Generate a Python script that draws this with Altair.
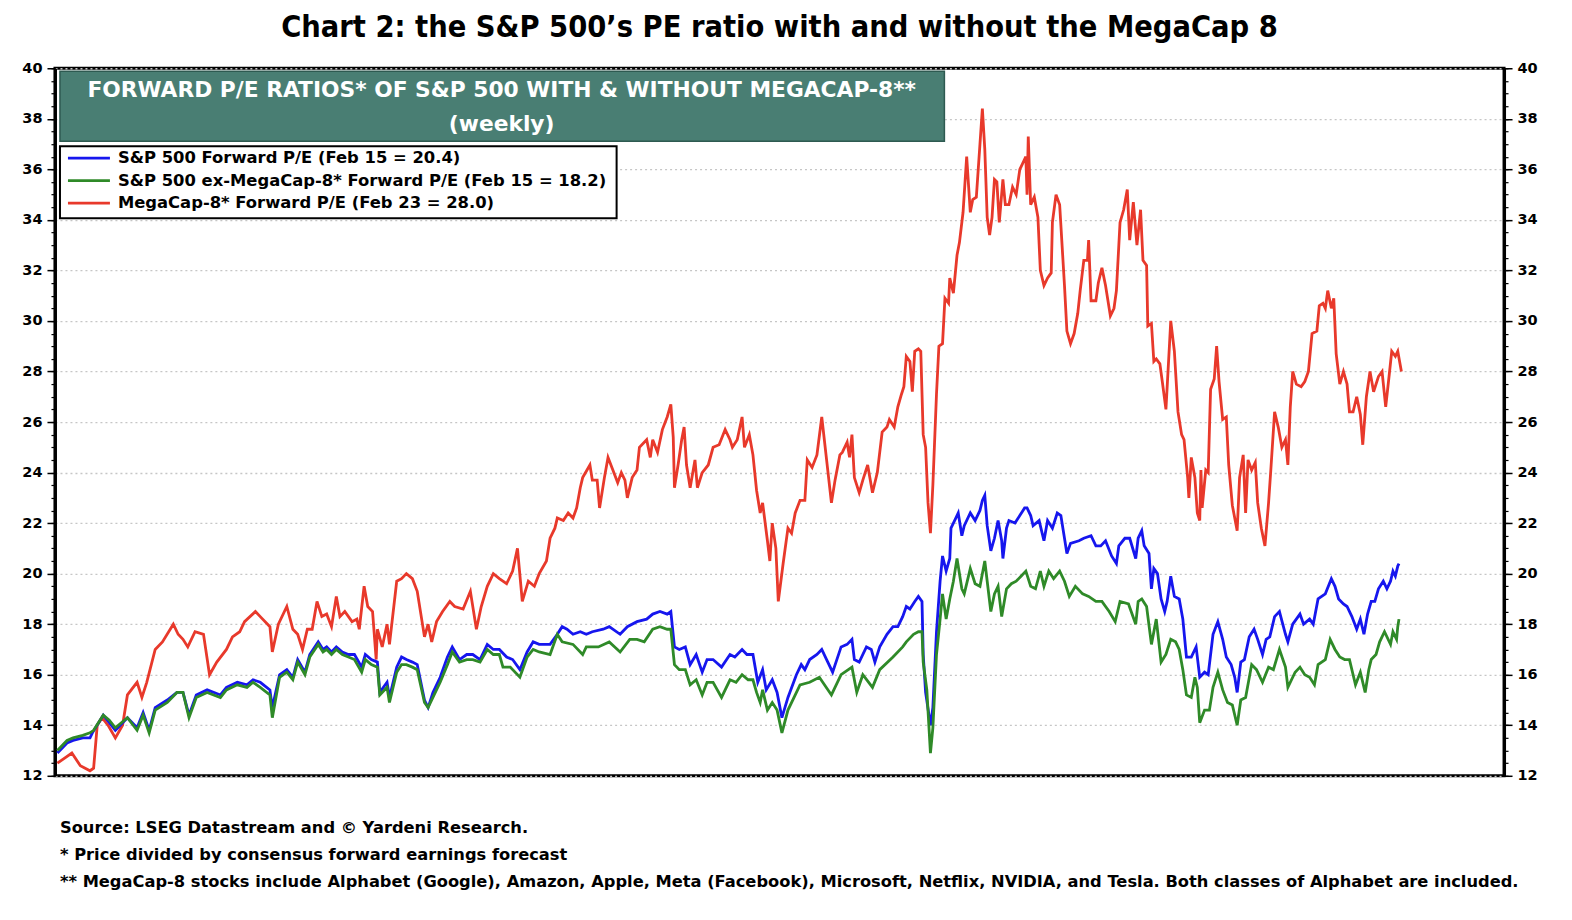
import altair as alt
import pandas as pd

# ---------------- data (decimal year, P/E) ----------------
mc8 = [
    (2013.02, 12.5), (2013.08, 12.7), (2013.14, 12.9), (2013.21, 12.4), (2013.29, 12.2), (2013.32, 12.3),
    (2013.35, 14.0), (2013.39, 14.3), (2013.44, 14.0), (2013.50, 13.5), (2013.56, 14.0), (2013.60, 15.2),
    (2013.68, 15.7), (2013.72, 15.1), (2013.76, 15.7), (2013.83, 17.0), (2013.89, 17.3), (2013.98, 18.0),
    (2014.02, 17.6), (2014.06, 17.4), (2014.10, 17.1), (2014.16, 17.7), (2014.23, 17.6), (2014.28, 16.0),
    (2014.34, 16.5), (2014.42, 17.0), (2014.47, 17.5), (2014.53, 17.7), (2014.57, 18.1), (2014.66, 18.5),
    (2014.70, 18.3), (2014.78, 17.9), (2014.80, 16.9), (2014.85, 18.0), (2014.92, 18.7), (2014.97, 17.8),
    (2015.01, 17.6), (2015.05, 17.0), (2015.09, 17.8), (2015.13, 17.8), (2015.17, 18.9), (2015.21, 18.3),
    (2015.25, 18.4), (2015.29, 17.9), (2015.33, 19.1), (2015.36, 18.3), (2015.40, 18.5), (2015.46, 18.1),
    (2015.50, 18.2), (2015.52, 17.8), (2015.56, 19.5), (2015.59, 18.7), (2015.63, 18.5), (2015.66, 16.6),
    (2015.67, 17.8), (2015.71, 17.1), (2015.75, 18.0), (2015.77, 17.2), (2015.83, 19.7), (2015.87, 19.8),
    (2015.91, 20.0), (2015.96, 19.8), (2016.00, 19.3), (2016.04, 18.1), (2016.06, 17.5), (2016.09, 18.0),
    (2016.12, 17.3), (2016.16, 18.1), (2016.21, 18.5), (2016.27, 18.9), (2016.31, 18.7), (2016.38, 18.6),
    (2016.44, 19.3), (2016.49, 17.8), (2016.53, 18.7), (2016.58, 19.5), (2016.63, 20.0), (2016.68, 19.8),
    (2016.74, 19.6), (2016.79, 20.1), (2016.83, 21.0), (2016.87, 18.9), (2016.92, 19.7), (2016.97, 19.5),
    (2017.01, 20.0), (2017.07, 20.5), (2017.10, 21.4), (2017.14, 21.8), (2017.16, 22.2), (2017.21, 22.1),
    (2017.25, 22.4), (2017.29, 22.2), (2017.32, 22.6), (2017.35, 23.4), (2017.37, 23.8), (2017.43, 24.3),
    (2017.45, 23.7), (2017.49, 23.7), (2017.51, 22.6), (2017.55, 23.8), (2017.58, 24.6), (2017.62, 24.1),
    (2017.66, 23.6), (2017.69, 24.0), (2017.72, 23.7), (2017.74, 23.0), (2017.78, 23.8), (2017.82, 24.1),
    (2017.84, 25.0), (2017.90, 25.3), (2017.93, 24.6), (2017.95, 25.3), (2017.99, 24.8), (2018.03, 25.7),
    (2018.07, 26.2), (2018.10, 26.7), (2018.12, 25.4), (2018.13, 23.4), (2018.16, 24.3), (2018.19, 25.3),
    (2018.21, 25.8), (2018.23, 24.3), (2018.26, 23.4), (2018.30, 24.5), (2018.32, 23.4), (2018.36, 24.0),
    (2018.41, 24.3), (2018.45, 25.0), (2018.50, 25.1), (2018.55, 25.7), (2018.59, 25.3), (2018.61, 25.0),
    (2018.65, 25.3), (2018.69, 26.2), (2018.71, 25.0), (2018.75, 25.5), (2018.78, 24.7), (2018.81, 23.3),
    (2018.84, 22.4), (2018.86, 22.8), (2018.90, 21.3), (2018.92, 20.5), (2018.94, 22.0), (2018.97, 21.0),
    (2018.99, 18.9), (2019.03, 20.4), (2019.07, 21.8), (2019.10, 21.6), (2019.13, 22.4), (2019.17, 22.9),
    (2019.21, 22.9), (2019.23, 24.5), (2019.27, 24.2), (2019.31, 24.7), (2019.35, 26.2), (2019.39, 24.5),
    (2019.43, 22.8), (2019.46, 23.7), (2019.50, 24.7), (2019.52, 24.8), (2019.56, 25.2), (2019.58, 24.6),
    (2019.60, 25.5), (2019.62, 23.8), (2019.66, 23.2), (2019.69, 23.7), (2019.73, 24.3), (2019.77, 23.2),
    (2019.81, 24.0), (2019.85, 25.6), (2019.89, 25.8), (2019.91, 26.1), (2019.95, 25.8), (2019.98, 26.6),
    (2020.01, 27.1), (2020.03, 27.4), (2020.05, 28.6), (2020.08, 28.4), (2020.10, 27.2), (2020.12, 28.8),
    (2020.15, 28.9), (2020.17, 28.8), (2020.19, 25.5), (2020.21, 25.0), (2020.23, 22.8), (2020.25, 21.6),
    (2020.27, 23.5), (2020.30, 27.1), (2020.32, 29.0), (2020.35, 29.1), (2020.37, 30.9), (2020.40, 30.7),
    (2020.41, 31.7), (2020.44, 31.1), (2020.47, 32.6), (2020.49, 33.1), (2020.52, 34.3), (2020.55, 36.5),
    (2020.58, 34.3), (2020.60, 34.8), (2020.63, 34.9), (2020.66, 37.0), (2020.68, 38.4), (2020.70, 36.8),
    (2020.72, 34.1), (2020.74, 33.4), (2020.76, 34.1), (2020.78, 35.6), (2020.80, 35.5), (2020.82, 33.9),
    (2020.85, 35.6), (2020.87, 34.6), (2020.90, 34.6), (2020.93, 35.3), (2020.96, 35.0), (2020.99, 36.0),
    (2021.01, 36.2), (2021.04, 36.5), (2021.05, 35.0), (2021.06, 37.3), (2021.08, 34.6), (2021.11, 34.9),
    (2021.14, 34.1), (2021.16, 32.0), (2021.19, 31.4), (2021.22, 31.7), (2021.25, 31.9), (2021.26, 33.9),
    (2021.29, 35.0), (2021.32, 34.6), (2021.36, 31.4), (2021.38, 29.6), (2021.41, 29.1), (2021.44, 29.5),
    (2021.47, 30.3), (2021.49, 31.2), (2021.52, 32.4), (2021.55, 32.4), (2021.56, 33.2), (2021.58, 30.8),
    (2021.62, 30.8), (2021.64, 31.5), (2021.67, 32.1), (2021.70, 31.4), (2021.74, 30.2), (2021.77, 30.5),
    (2021.79, 31.2), (2021.82, 33.9), (2021.85, 34.4), (2021.88, 35.2), (2021.90, 33.2), (2021.93, 34.7),
    (2021.96, 33.0), (2021.99, 34.4), (2022.01, 32.4), (2022.04, 32.2), (2022.05, 29.8), (2022.08, 29.9),
    (2022.10, 28.4), (2022.12, 28.5), (2022.15, 28.3), (2022.17, 27.6), (2022.20, 26.5), (2022.23, 29.1),
    (2022.24, 30.0), (2022.27, 28.8), (2022.30, 26.4), (2022.33, 25.5), (2022.35, 25.3), (2022.38, 23.8),
    (2022.39, 23.0), (2022.41, 24.6), (2022.44, 23.8), (2022.46, 22.4), (2022.48, 22.1), (2022.49, 24.1),
    (2022.50, 22.6), (2022.53, 24.1), (2022.55, 24.0), (2022.57, 27.3), (2022.60, 27.7), (2022.62, 29.0),
    (2022.64, 27.6), (2022.67, 26.1), (2022.70, 26.2), (2022.72, 24.3), (2022.75, 22.7), (2022.79, 21.7),
    (2022.81, 23.8), (2022.84, 24.7), (2022.86, 22.4), (2022.88, 24.5), (2022.91, 24.1), (2022.94, 24.4),
    (2022.96, 22.8), (2022.99, 21.8), (2023.02, 21.1), (2023.05, 22.8), (2023.07, 24.2), (2023.10, 26.4),
    (2023.13, 25.8), (2023.16, 25.0), (2023.19, 25.3), (2023.21, 24.3), (2023.23, 26.6), (2023.25, 28.0),
    (2023.28, 27.5), (2023.32, 27.4), (2023.35, 27.6), (2023.38, 28.0), (2023.41, 29.5), (2023.45, 29.6),
    (2023.47, 30.6), (2023.50, 30.7), (2023.52, 30.5), (2023.54, 31.2), (2023.57, 30.5), (2023.59, 30.9),
    (2023.61, 28.7), (2023.64, 27.5), (2023.67, 28.0), (2023.70, 27.5), (2023.72, 26.4), (2023.75, 26.4),
    (2023.78, 27.0), (2023.81, 26.3), (2023.83, 25.1), (2023.86, 27.0), (2023.89, 28.0), (2023.92, 27.2),
    (2023.96, 27.8), (2023.99, 28.0), (2024.02, 26.6), (2024.05, 27.9), (2024.07, 28.8), (2024.10, 28.6),
    (2024.12, 28.8), (2024.15, 28.0),
]

spx = [
    (2013.02, 12.9), (2013.10, 13.3), (2013.15, 13.4), (2013.23, 13.5), (2013.29, 13.5), (2013.31, 13.7),
    (2013.40, 14.4), (2013.45, 14.1), (2013.50, 13.8), (2013.60, 14.3), (2013.68, 13.9), (2013.73, 14.5),
    (2013.78, 13.8), (2013.83, 14.7), (2013.93, 15.0), (2014.01, 15.3), (2014.06, 15.3), (2014.11, 14.4),
    (2014.17, 15.2), (2014.26, 15.4), (2014.37, 15.2), (2014.42, 15.5), (2014.51, 15.7), (2014.59, 15.6),
    (2014.64, 15.8), (2014.70, 15.7), (2014.78, 15.4), (2014.80, 14.7), (2014.86, 16.0), (2014.92, 16.2),
    (2014.97, 15.9), (2015.01, 16.6), (2015.07, 16.1), (2015.11, 16.8), (2015.18, 17.3), (2015.22, 17.0),
    (2015.25, 17.1), (2015.29, 16.9), (2015.33, 17.1), (2015.38, 16.9), (2015.43, 16.8), (2015.48, 16.8),
    (2015.54, 16.3), (2015.57, 16.8), (2015.62, 16.6), (2015.67, 16.5), (2015.69, 15.3), (2015.75, 15.7),
    (2015.77, 15.1), (2015.83, 16.3), (2015.87, 16.7), (2015.91, 16.6), (2015.96, 16.5), (2016.00, 16.4),
    (2016.06, 15.0), (2016.09, 14.7), (2016.13, 15.3), (2016.19, 15.9), (2016.25, 16.7), (2016.29, 17.1),
    (2016.35, 16.6), (2016.41, 16.8), (2016.46, 16.8), (2016.52, 16.6), (2016.58, 17.2), (2016.63, 17.0),
    (2016.68, 17.0), (2016.74, 16.7), (2016.79, 16.6), (2016.85, 16.2), (2016.91, 16.9), (2016.96, 17.3),
    (2017.01, 17.2), (2017.10, 17.2), (2017.16, 17.6), (2017.20, 17.9), (2017.24, 17.8), (2017.29, 17.6),
    (2017.35, 17.7), (2017.40, 17.6), (2017.45, 17.7), (2017.54, 17.8), (2017.59, 17.9), (2017.68, 17.6),
    (2017.74, 17.9), (2017.82, 18.1), (2017.90, 18.2), (2017.95, 18.4), (2018.01, 18.5), (2018.07, 18.4),
    (2018.10, 18.5), (2018.13, 17.1), (2018.17, 17.0), (2018.22, 17.1), (2018.26, 16.4), (2018.31, 16.8),
    (2018.36, 16.1), (2018.40, 16.6), (2018.45, 16.6), (2018.52, 16.3), (2018.59, 16.8), (2018.63, 16.7),
    (2018.69, 17.0), (2018.73, 16.8), (2018.78, 16.8), (2018.82, 15.7), (2018.86, 16.2), (2018.89, 15.4),
    (2018.94, 15.8), (2018.98, 15.3), (2019.02, 14.3), (2019.07, 15.1), (2019.14, 16.0), (2019.18, 16.4),
    (2019.21, 16.2), (2019.25, 16.6), (2019.31, 16.8), (2019.35, 17.0), (2019.39, 16.6), (2019.44, 16.1),
    (2019.51, 17.1), (2019.56, 17.2), (2019.60, 17.4), (2019.62, 16.6), (2019.66, 16.5), (2019.72, 17.1),
    (2019.76, 17.0), (2019.79, 16.5), (2019.83, 17.1), (2019.89, 17.6), (2019.94, 17.9), (2019.98, 17.9),
    (2020.02, 18.3), (2020.05, 18.7), (2020.08, 18.6), (2020.12, 18.9), (2020.15, 19.1), (2020.18, 18.9),
    (2020.19, 16.8), (2020.21, 15.3), (2020.25, 14.0), (2020.27, 14.7), (2020.30, 17.7), (2020.33, 19.7),
    (2020.35, 20.7), (2020.38, 20.1), (2020.41, 20.6), (2020.42, 21.8), (2020.46, 22.2), (2020.48, 22.4),
    (2020.51, 21.5), (2020.53, 21.9), (2020.58, 22.4), (2020.62, 22.1), (2020.66, 22.5), (2020.68, 22.9),
    (2020.70, 23.1), (2020.72, 21.9), (2020.75, 20.9), (2020.78, 21.4), (2020.81, 22.1), (2020.84, 21.3),
    (2020.85, 20.6), (2020.88, 21.8), (2020.90, 22.1), (2020.95, 22.0), (2020.99, 22.3), (2021.03, 22.6),
    (2021.05, 22.6), (2021.08, 22.3), (2021.10, 21.9), (2021.15, 22.1), (2021.19, 21.3), (2021.22, 22.1),
    (2021.26, 21.8), (2021.30, 22.4), (2021.33, 22.3), (2021.36, 21.4), (2021.38, 20.8), (2021.41, 21.2),
    (2021.48, 21.3), (2021.52, 21.4), (2021.58, 21.5), (2021.62, 21.1), (2021.66, 21.1), (2021.70, 21.3),
    (2021.75, 20.7), (2021.79, 20.4), (2021.81, 21.1), (2021.86, 21.4), (2021.90, 21.4), (2021.95, 20.6),
    (2021.97, 21.4), (2022.00, 21.7), (2022.02, 21.1), (2022.06, 20.8), (2022.08, 19.4), (2022.10, 20.2),
    (2022.13, 20.0), (2022.16, 19.0), (2022.19, 18.5), (2022.21, 18.9), (2022.24, 19.9), (2022.27, 19.1),
    (2022.31, 19.0), (2022.34, 18.2), (2022.37, 16.7), (2022.41, 16.7), (2022.45, 17.1), (2022.48, 15.9),
    (2022.52, 16.1), (2022.55, 16.0), (2022.59, 17.6), (2022.63, 18.1), (2022.67, 17.4), (2022.70, 16.7),
    (2022.74, 16.4), (2022.77, 15.9), (2022.79, 15.3), (2022.82, 16.5), (2022.85, 16.6), (2022.89, 17.5),
    (2022.93, 17.8), (2022.96, 17.4), (2023.00, 16.8), (2023.03, 17.4), (2023.06, 17.5), (2023.10, 18.3),
    (2023.14, 18.5), (2023.19, 17.6), (2023.21, 17.3), (2023.25, 18.0), (2023.31, 18.4), (2023.34, 18.0),
    (2023.39, 18.2), (2023.42, 18.0), (2023.46, 19.0), (2023.52, 19.2), (2023.57, 19.8), (2023.60, 19.5),
    (2023.63, 19.0), (2023.67, 18.8), (2023.70, 18.7), (2023.74, 18.3), (2023.78, 17.8), (2023.81, 18.2),
    (2023.84, 17.6), (2023.87, 18.4), (2023.90, 18.9), (2023.93, 18.9), (2023.96, 19.4), (2024.00, 19.7),
    (2024.03, 19.4), (2024.06, 19.7), (2024.08, 20.1), (2024.10, 19.9), (2024.12, 20.3), (2024.13, 20.4),
]

ex_mc8 = [
    (2013.02, 13.0), (2013.10, 13.4), (2013.15, 13.5), (2013.23, 13.6), (2013.29, 13.7), (2013.32, 13.8),
    (2013.40, 14.4), (2013.45, 14.2), (2013.50, 13.9), (2013.60, 14.3), (2013.68, 13.8), (2013.73, 14.4),
    (2013.78, 13.7), (2013.83, 14.6), (2013.93, 14.9), (2014.01, 15.3), (2014.06, 15.3), (2014.11, 14.3),
    (2014.17, 15.1), (2014.26, 15.3), (2014.37, 15.1), (2014.42, 15.4), (2014.51, 15.6), (2014.59, 15.5),
    (2014.64, 15.7), (2014.70, 15.5), (2014.78, 15.2), (2014.80, 14.3), (2014.86, 15.9), (2014.92, 16.1),
    (2014.97, 15.8), (2015.01, 16.5), (2015.07, 16.0), (2015.11, 16.7), (2015.18, 17.2), (2015.22, 16.9),
    (2015.25, 17.0), (2015.29, 16.8), (2015.33, 17.0), (2015.38, 16.8), (2015.43, 16.7), (2015.48, 16.6),
    (2015.54, 16.1), (2015.57, 16.6), (2015.62, 16.4), (2015.67, 16.3), (2015.69, 15.2), (2015.75, 15.5),
    (2015.77, 14.9), (2015.83, 16.1), (2015.87, 16.4), (2015.91, 16.4), (2015.96, 16.3), (2016.00, 16.2),
    (2016.06, 14.9), (2016.09, 14.7), (2016.13, 15.1), (2016.19, 15.7), (2016.25, 16.4), (2016.29, 16.9),
    (2016.35, 16.5), (2016.41, 16.6), (2016.46, 16.6), (2016.52, 16.5), (2016.58, 17.0), (2016.63, 16.8),
    (2016.68, 16.8), (2016.71, 16.3), (2016.77, 16.3), (2016.85, 15.9), (2016.91, 16.7), (2016.96, 17.0),
    (2017.01, 16.9), (2017.10, 16.8), (2017.16, 17.6), (2017.20, 17.3), (2017.29, 17.2), (2017.37, 16.8),
    (2017.40, 17.1), (2017.50, 17.1), (2017.59, 17.3), (2017.68, 16.9), (2017.76, 17.4), (2017.82, 17.4),
    (2017.88, 17.3), (2017.95, 17.8), (2018.01, 17.9), (2018.07, 17.8), (2018.10, 17.8), (2018.13, 16.4),
    (2018.17, 16.2), (2018.22, 16.2), (2018.26, 15.6), (2018.31, 15.8), (2018.36, 15.2), (2018.40, 15.7),
    (2018.45, 15.7), (2018.52, 15.1), (2018.59, 15.8), (2018.64, 15.7), (2018.69, 16.0), (2018.74, 15.8),
    (2018.78, 15.8), (2018.81, 15.3), (2018.84, 14.9), (2018.86, 15.4), (2018.90, 14.6), (2018.94, 14.9),
    (2018.98, 14.6), (2019.02, 13.7), (2019.07, 14.6), (2019.17, 15.6), (2019.25, 15.7), (2019.33, 15.9),
    (2019.43, 15.2), (2019.51, 16.0), (2019.60, 16.3), (2019.64, 15.3), (2019.69, 16.0), (2019.77, 15.5),
    (2019.83, 16.2), (2019.94, 16.7), (2020.02, 17.1), (2020.05, 17.3), (2020.11, 17.6), (2020.15, 17.7),
    (2020.18, 17.7), (2020.19, 16.5), (2020.22, 15.4), (2020.25, 12.9), (2020.27, 13.9), (2020.30, 16.8),
    (2020.33, 18.2), (2020.35, 19.2), (2020.38, 18.2), (2020.41, 19.0), (2020.44, 19.7), (2020.47, 20.6),
    (2020.51, 19.4), (2020.53, 19.2), (2020.58, 20.2), (2020.62, 19.6), (2020.66, 19.5), (2020.70, 20.5),
    (2020.72, 19.7), (2020.75, 18.5), (2020.78, 19.2), (2020.81, 19.5), (2020.84, 18.3), (2020.88, 19.4),
    (2020.92, 19.6), (2020.96, 19.7), (2021.00, 19.9), (2021.04, 20.1), (2021.08, 19.5), (2021.12, 19.4),
    (2021.16, 20.1), (2021.19, 19.5), (2021.23, 20.1), (2021.27, 19.8), (2021.32, 20.1), (2021.36, 19.7),
    (2021.40, 19.1), (2021.45, 19.5), (2021.51, 19.2), (2021.56, 19.1), (2021.62, 18.9), (2021.67, 18.9),
    (2021.73, 18.5), (2021.78, 18.1), (2021.82, 18.9), (2021.89, 18.8), (2021.95, 18.0), (2021.97, 18.9),
    (2022.00, 19.0), (2022.04, 18.7), (2022.08, 17.2), (2022.12, 18.2), (2022.16, 16.5), (2022.20, 16.8),
    (2022.24, 17.4), (2022.28, 17.3), (2022.31, 17.0), (2022.34, 16.2), (2022.37, 15.2), (2022.41, 15.1),
    (2022.44, 15.9), (2022.46, 15.5), (2022.48, 14.1), (2022.52, 14.6), (2022.56, 14.6), (2022.59, 15.5),
    (2022.63, 16.1), (2022.67, 15.4), (2022.71, 14.9), (2022.75, 14.8), (2022.79, 14.0), (2022.82, 15.0),
    (2022.86, 15.1), (2022.91, 16.4), (2022.95, 16.2), (2023.00, 15.7), (2023.05, 16.3), (2023.09, 16.2),
    (2023.14, 17.0), (2023.19, 16.3), (2023.21, 15.5), (2023.27, 16.1), (2023.31, 16.3), (2023.35, 16.0),
    (2023.39, 15.9), (2023.43, 15.6), (2023.46, 16.4), (2023.52, 16.6), (2023.56, 17.4), (2023.60, 17.0),
    (2023.64, 16.7), (2023.68, 16.6), (2023.72, 16.6), (2023.77, 15.6), (2023.81, 16.1), (2023.85, 15.3),
    (2023.88, 16.2), (2023.90, 16.6), (2023.94, 16.8), (2023.97, 17.3), (2024.01, 17.7), (2024.06, 17.2),
    (2024.08, 17.7), (2024.11, 17.4), (2024.12, 17.9), (2024.13, 18.2),
]

series_labels = [
    "S&P 500 Forward P/E (Feb 15 = 20.4)",
    "S&P 500 ex-MegaCap-8* Forward P/E (Feb 15 = 18.2)",
    "MegaCap-8* Forward P/E (Feb 23 = 28.0)",
]
series_colors = ["#1616ee", "#2f8a28", "#e8392b"]

year_ticks = list(range(2013, 2026))
y_major = list(range(12, 41, 2))
y_minor = [12 + 0.5 * i for i in range(57)]

title_text = "Chart 2: the S\u0026P 500\u2019s PE ratio with and without the MegaCap 8"
header_lines = ["FORWARD P/E RATIOS* OF S\u0026P 500 WITH \u0026 WITHOUT MEGACAP-8**", "(weekly)"]
footnotes = [
    "Source: LSEG Datastream and \u00a9 Yardeni Research.",
    "* Price divided by consensus forward earnings forecast",
    "** MegaCap-8 stocks include Alphabet (Google), Amazon, Apple, Meta (Facebook), Microsoft, Netflix, NVIDIA, and Tesla. Both classes of Alphabet are included.",
]

# ---------------- build ----------------
def frame(pairs):
    return pd.DataFrame(pairs, columns=["t", "v"])

W, H = 1450, 708
FONT = "DejaVu Sans"
GRID = "#c6c6c6"

xs = alt.Scale(domain=[2013, 2025], nice=False, zero=False)
ys = alt.Scale(domain=[12, 40], nice=False, zero=False)

x_axis = alt.Axis(
    values=year_ticks, format="d",
    labelExpr="datum.value >= 2025 ? '' : datum.label",
    labelOffset=60, labelFlush=False, labelOverlap=False, labelBound=False,
    labelFont=FONT, labelFontSize=14.5, labelFontWeight="bold", labelColor="black", labelPadding=8,
    tickSize=9, tickWidth=1.5, tickColor="black",
    domainColor="black", domainWidth=3,
    grid=True, gridColor=GRID, gridDash=[2, 3], gridWidth=1.3,
    title=None,
)

def y_axis(orient, grid):
    return alt.Axis(
        orient=orient, values=y_major, format="d",
        labelFont=FONT, labelFontSize=14.5, labelFontWeight="bold", labelColor="black", labelPadding=5,
        tickSize=8, tickWidth=1.5, tickColor="black",
        domainColor="black", domainWidth=3,
        grid=grid, gridColor=GRID, gridDash=[2, 3], gridWidth=1.3,
        title=None,
    )

def y_minor_axis(orient):
    return alt.Axis(
        orient=orient, values=y_minor, labels=False, domain=False, grid=False,
        tickSize=4, tickWidth=1.2, tickColor="black", title=None,
    )

red = alt.Chart(frame(mc8)).mark_line(color=series_colors[2], strokeWidth=2.8).encode(
    x=alt.X("t:Q", scale=xs, axis=x_axis),
    y=alt.Y("v:Q", scale=ys, axis=y_axis("left", True)),
)
blue = alt.Chart(frame(spx)).mark_line(color=series_colors[0], strokeWidth=2.8).encode(
    x=alt.X("t:Q", scale=xs, axis=None),
    y=alt.Y("v:Q", scale=ys, axis=y_axis("right", False)),
)
green = alt.Chart(frame(ex_mc8)).mark_line(color=series_colors[1], strokeWidth=2.8).encode(
    x=alt.X("t:Q", scale=xs, axis=None),
    y=alt.Y("v:Q", scale=ys, axis=y_minor_axis("left")),
)
ghost = alt.Chart(frame(mc8)).mark_line(opacity=0).encode(
    x=alt.X("t:Q", scale=xs, axis=None),
    y=alt.Y("v:Q", scale=ys, axis=y_minor_axis("right")),
)

one = pd.DataFrame({"k": [0]})

header_box = alt.Chart(one).mark_rect(fill="#497e73", stroke="#2e5a51", strokeWidth=1.5).encode(
    x=alt.value(5), x2=alt.value(890), y=alt.value(3), y2=alt.value(73)
)
header_txt = [
    alt.Chart(one).mark_text(font=FONT, fontSize=21.8, fontWeight="bold", color="white",
                             align="center", baseline="middle").encode(
        x=alt.value(447), y=alt.value(yy), text=alt.value(txt))
    for txt, yy in zip(header_lines, [22, 56])
]

legend_box = alt.Chart(one).mark_rect(fill="white", stroke="black", strokeWidth=2).encode(
    x=alt.value(5), x2=alt.value(562), y=alt.value(78), y2=alt.value(150)
)
legend_layers = []
for i, (lab, col) in enumerate(zip(series_labels, series_colors)):
    yy = 90 + i * 22.5
    legend_layers.append(
        alt.Chart(one).mark_rule(color=col, strokeWidth=2.8).encode(
            x=alt.value(13), x2=alt.value(55), y=alt.value(yy))
    )
    legend_layers.append(
        alt.Chart(one).mark_text(font=FONT, fontSize=16.4, fontWeight="bold", color="black",
                                 align="left", baseline="middle").encode(
            x=alt.value(63), y=alt.value(yy), text=alt.value(lab))
    )

title_layer = alt.Chart(one).mark_text(font="DejaVu Sans Condensed", fontSize=30.5, fontWeight="bold",
                                       color="black", align="center", baseline="alphabetic").encode(
    x=alt.value(W / 2), y=alt.value(-31), text=alt.value(title_text))

foot_layers = [
    alt.Chart(one).mark_text(font=FONT, fontSize=16.3, fontWeight="bold", color="black",
                             align="left", baseline="middle").encode(
        x=alt.value(5), y=alt.value(760 + 27 * i), text=alt.value(txt))
    for i, txt in enumerate(footnotes)
]

chart = alt.layer(
    red, blue, green, ghost, header_box, *header_txt, legend_box, *legend_layers, title_layer, *foot_layers
).resolve_axis(y="independent").properties(
    width=W, height=H,
    autosize=alt.AutoSizeParams(type="none"),
    padding={"left": 47, "top": 60, "right": 60, "bottom": 140},
    background="white",
).configure_view(stroke="black", strokeWidth=3)

chart.save("out.html", embed_options={"renderer": "svg", "actions": False})
